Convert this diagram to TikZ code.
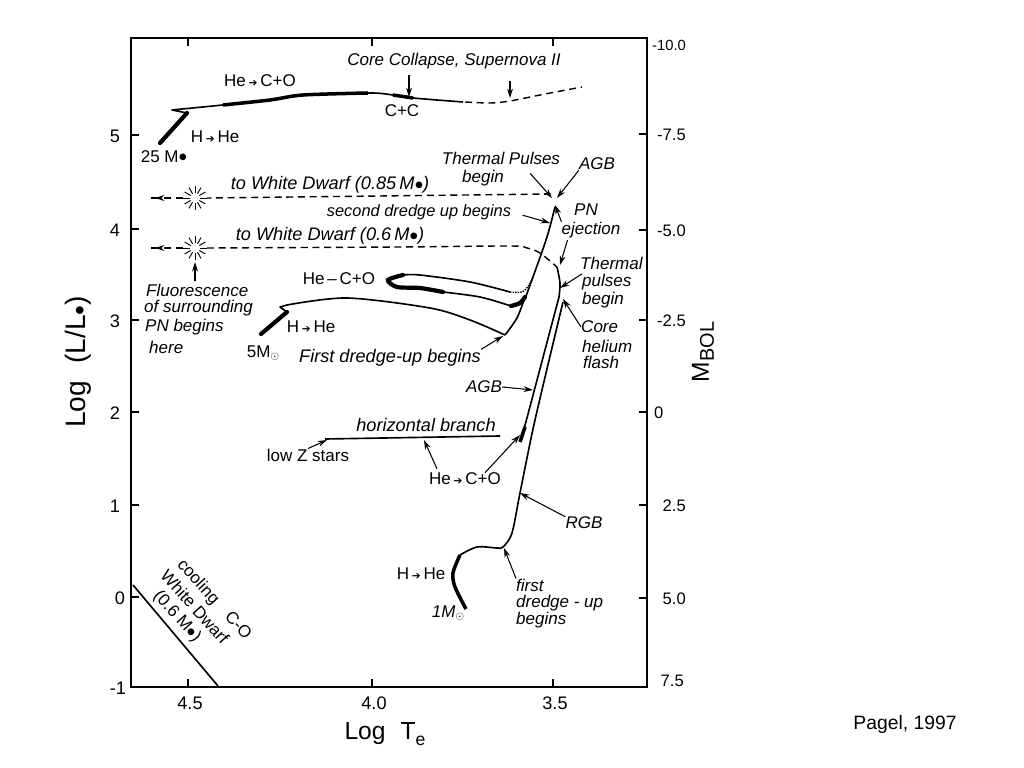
\documentclass[tikz,border=0pt]{standalone}
\usepackage{fontspec}
\setmainfont{Liberation Sans}
\newfontfamily\arrowfont{DejaVu Sans}
\usetikzlibrary{arrows.meta}

\newcommand{\hto}{\,{\arrowfont\fontsize{9}{9}\selectfont ➔}\,}
\newcommand{\Msun}{M\raisebox{-.35ex}{\fontsize{21}{21}\selectfont\textbullet}}
\newcommand{\Modot}{M\raisebox{-.25ex}{\small$\odot$}}

\begin{document}
\begin{tikzpicture}[
      x=0.03cm, y=-0.03cm,
      >={Stealth[length=8pt,width=5pt]},
      lab/.style={inner sep=0pt, font=\fontsize{14.5}{16}\selectfont},
      ilab/.style={lab, font=\fontsize{14.5}{16}\selectfont\itshape},
      wide/.style={lab, font=\fontsize{15.5}{17}\selectfont\itshape},
      num/.style={inner sep=0pt, font=\fontsize{15.5}{17}\selectfont},
      rnum/.style={inner sep=0pt, font=\fontsize{14.2}{16}\selectfont},
      axlab/.style={inner sep=0pt, font=\fontsize{21}{24}\selectfont},
      track/.style={line width=1.4pt, line join=round},
      fat/.style={line width=3.6pt, line cap=round},
      dashtrack/.style={line width=1.2pt, dash pattern=on 6pt off 4pt},
      arr/.style={->, line width=0.9pt}
    ]
      \useasboundingbox (0,0) rectangle (1024,768);
      \def\ticklen{8}

      % Frame
      \draw[line width=1.7pt] (131,38) rectangle (647,687);

      % Ticks and numbers
      \foreach \yy/\lab in {135/5,229/4,320/3,412/2,505/1}{
        \draw[line width=1.4pt] (131,\yy) -- ++(\ticklen,0);
        \node[num] (left\lab) at (115,\yy+1) {\lab};
      }
      \draw[line width=1.4pt] (131,597) -- ++(\ticklen,0);
      \node[num] (leftzero) at (120,598) {0};
      \node[num] (leftminus) at (118,688) {-1};
      \foreach \xx/\lab in {188/4.5,372/4.0,553/3.5}{
        \draw[line width=1.4pt] (\xx,38) -- ++(0,\ticklen);
        \draw[line width=1.4pt] (\xx,687) -- ++(0,-\ticklen);
        \node[num] (bottom\lab) at (\xx+2,703) {\lab};
      }
      \foreach \yy/\lab in {134/-7.5,230/-5.0,320/-2.5,505/2.5,598/5.0}{
        \draw[line width=1.4pt] (647,\yy) -- ++(-\ticklen,0);
        \node[rnum, anchor=east] (right\lab) at (686,\yy+1) {\lab};
      }
      \draw[line width=1.4pt] (647,412) -- ++(-\ticklen,0);
      \node[rnum, anchor=west] (rightzero) at (654,413) {0};
      \node[rnum, anchor=west, font=\fontsize{12.6}{14}\selectfont] (righttop) at (652,45) {-10.0};
      \node[rnum, anchor=east] (rightlow) at (684,681) {7.5};

      % Axis titles
      \node[axlab, rotate=90, font=\fontsize{24}{26}\selectfont] (ylab) at (78,362) {Log\,\, (L/L\raisebox{-.3ex}{\textbullet})};
      \node[axlab] (xlab) at (385,734) {Log\,\, T\raisebox{-.5ex}{\fontsize{15}{16}\selectfont e}};
      \node[axlab, rotate=90] (blab) at (703,352) {M\raisebox{-.4ex}{\fontsize{17}{18}\selectfont BOL}};
      \node[inner sep=0pt, font=\fontsize{16.5}{18}\selectfont] (source) at (905,725) {Pagel, 1997};

      % 25 Msun track
      \draw[fat] (160,143) -- (187,113);
      \draw[track] (187,113) -- (172,110) -- (223,105);
      \draw[track] plot[smooth] coordinates {(223,105) (270,100) (303,95) (370,93) (393,95) (413,98) (463,102)};
      \draw[line width=3pt] plot[smooth] coordinates {(223,105) (270,100) (303,95) (368,93)};
      \draw[line width=3pt] (393,95) -- (413,98);
      \draw[dashtrack] plot[smooth] coordinates {(465,102) (490,103) (510,101) (545,94) (582,87)};

      % Planetary nebula tracks
      \coordinate (burstA) at (195,198);
      \coordinate (burstB) at (195,248);
      \foreach \bname in {burstA,burstB}
        \foreach \ang in {0,30,...,330}
          \draw[line width=0.8pt] ([shift={(\ang:5)}]\bname) -- ([shift={(\ang:12)}]\bname);
      \draw[dashtrack] (551,194) -- (207,198);
      \draw[dashtrack, ->] (183,198) -- (155,198);
      \draw[line width=1.2pt] (158,198) -- (151,198);
      \draw[dashtrack] plot[smooth] coordinates {(207,248) (400,247) (510,246) (527,248) (540,253) (557,267)};
      \draw[dashtrack, ->] (183,248) -- (155,248);
      \draw[line width=1.2pt] (158,248) -- (151,248);

      % 5 Msun track
      \draw[fat] (261,334) -- (287,312);
      \draw[track] (287,312) -- (280,307) -- (287,305);
      \draw[track] plot[smooth] coordinates {(287,305) (347,298) (430,308) (470,320) (505,335)};
      \draw[track] plot[smooth] coordinates {(505,335) (517,318) (525,297)};
      \draw[line width=3.6pt, line cap=round] plot[smooth] coordinates {(511,306) (520,303) (525,297)};
      \draw[track] plot[smooth] coordinates {(443,292) (480,297) (511,306)};
      \draw[line width=3.6pt, line cap=round] plot[smooth] coordinates {(443,292) (420,288) (397,287) (388,280) (403,275)};
      \draw[track] plot[smooth] coordinates {(403,275) (420,275) (470,282) (510,292)};
      \draw[line width=1.2pt, densely dotted] plot[smooth] coordinates {(510,292) (522,292) (529,285) (533,277)};
      \draw[track] plot[smooth] coordinates {(526,296) (533,277) (547,237) (555,207)};

      % Low mass track
      \draw[track] (559,297) -- (523,433);
      \draw[track] plot[smooth] coordinates {(557,267) (560,283) (559,297)};
      \draw[line width=3pt] (525,427) -- (520,442);
      \draw[track] plot[smooth] coordinates {(563,302) (535,420) (520,493) (512,533) (503,547) (497,548) (477,547) (460,555)};
      \draw[line width=3pt] plot[smooth] coordinates {(460,555) (453,573) (455,587) (466,609)};

      % Horizontal branch
      \draw[track] (325,439) -- (500,436);

      % Cooling line
      \draw[track] (133,585) -- (218,686);

      % Labels
      \node[lab] (heco) at (260,81) {He\hto C+O};
      \node[lab] (cc) at (402,111) {C+C};
      \node[lab] (hhe) at (215,137) {H\hto He};
      \node[lab] (bigstar) at (164,158) {25 \Msun};
      \node[ilab] (core) at (454,61) {Core Collapse, Supernova II};
      \node[ilab] (pulses) at (501,158) {Thermal Pulses};
      \node[ilab] (beginA) at (483,178) {begin};
      \node[ilab] (agbtop) at (597,164) {AGB};
      \node[wide] (dwarfA) at (330,185) {to White Dwarf (0.85\,\Msun)};
      \node[ilab, font=\fontsize{14}{16}\selectfont\itshape] (second) at (419,212) {second dredge up begins};
      \node[wide] (dwarfB) at (330,236) {to White Dwarf (0.6\,\Msun)};
      \node[ilab] (pn) at (586,210) {PN};
      \node[ilab] (eject) at (591,230) {ejection};
      \node[ilab, anchor=west] (therm) at (580,263) {Thermal};
      \node[ilab, anchor=west] (pulsesB) at (582,282) {pulses};
      \node[ilab, anchor=west] (beginB) at (582,300) {begin};
      \node[ilab, anchor=west] (corehe) at (581,327) {Core};
      \node[ilab, anchor=west] (helium) at (582,346) {helium};
      \node[ilab, anchor=west] (flash) at (583,362) {flash};
      \node[lab] (hecoloop) at (339,279) {He\,--\,C+O};
      \node[lab] (hhefive) at (311,327) {H\hto He};
      \node[lab] (midstar) at (263,353) {5\Modot};
      \node[wide] (firstdu) at (390,358) {First dredge-up begins};
      \node[ilab, anchor=west] (fluor) at (146,290) {Fluorescence};
      \node[ilab, anchor=west] (fluorB) at (144,308) {of surrounding};
      \node[ilab, anchor=west] (fluorC) at (145,327) {PN begins};
      \node[ilab, anchor=west] (fluorD) at (149,347) {here};
      \node[ilab] (agbmid) at (484,387) {AGB};
      \node[wide] (horiz) at (426,425) {horizontal branch};
      \node[lab] (lowz) at (308,455) {low Z stars};
      \node[lab] (hecolow) at (465,479) {He\hto C+O};
      \node[ilab] (rgb) at (584,523) {RGB};
      \node[ilab, anchor=west] (firstlow) at (516,585) {first};
      \node[ilab, anchor=west] (dredgelow) at (516,603) {dredge - up};
      \node[ilab, anchor=west] (beginlow) at (516,620) {begins};
      \node[lab] (hhelow) at (421,574) {H\hto He};
      \node[ilab] (onestar) at (448,613) {1\Modot};
      \node[lab, rotate=-48] (wdA) at (214,600) {cooling\quad C-O};
      \node[lab, rotate=-48] (wdB) at (195,607) {White Dwarf};
      \node[lab, rotate=-48] (wdC) at (177,617) {(0.6 \Msun)};

      % Arrow tips
      \coordinate (tipcc) at (409,97);
      \coordinate (tipsn) at (510,98);
      \coordinate (tipagb) at (557,198);
      \coordinate (tiptp) at (552,198);
      \coordinate (tipsec) at (550,223);
      \coordinate (tippn) at (555,205);
      \coordinate (tipej) at (560,265);
      \coordinate (tippul) at (560,288);
      \coordinate (tipflash) at (563,299);
      \coordinate (tipagbm) at (533,390);
      \coordinate (tipfirst) at (503,336);
      \coordinate (tiphb) at (424,440);
      \coordinate (tiphe) at (520,435);
      \coordinate (tiprgb) at (520,493);
      \coordinate (tipdu) at (504,548);
      \coordinate (tiplow) at (327,440);

      % Arrows
      \draw[arr, shorten <=5pt] (core.south -| tipcc) -- (tipcc);
      \draw[arr, shorten <=10pt] (core.south -| tipsn) -- (tipsn);
      \draw[arr] (agbtop.south west) -- (tipagb);
      \draw[arr] ([shift={(-30,9)}]pulses.south east) -- (tiptp);
      \draw[arr, shorten <=10pt] (second.east) -- (tipsec);
      \draw[arr] (eject.north west) -- (tippn);
      \draw[arr] ([shift={(6,2)}]eject.south west) -- (tipej);
      \draw[arr] (pulsesB.north west) -- (tippul);
      \draw[arr] (corehe.west) -- (tipflash);
      \draw[arr] (agbmid.east) -- (tipagbm);
      \draw[arr] (firstdu.north east) -- (tipfirst);
      \draw[arr] ([shift={(-28,-4)}]hecolow.north) -- (tiphb);
      \draw[arr] ([shift={(20,0)}]hecolow.north) -- (tiphe);
      \draw[arr] (rgb.north west) -- (tiprgb);
      \draw[arr] (firstlow.north west) -- (tipdu);
      \draw[arr] (lowz.north) -- (tiplow);
      \draw[arr, shorten >=12pt, shorten <=2pt] (fluor.north -| burstB) -- (burstB);
    \end{tikzpicture}
\end{document}
